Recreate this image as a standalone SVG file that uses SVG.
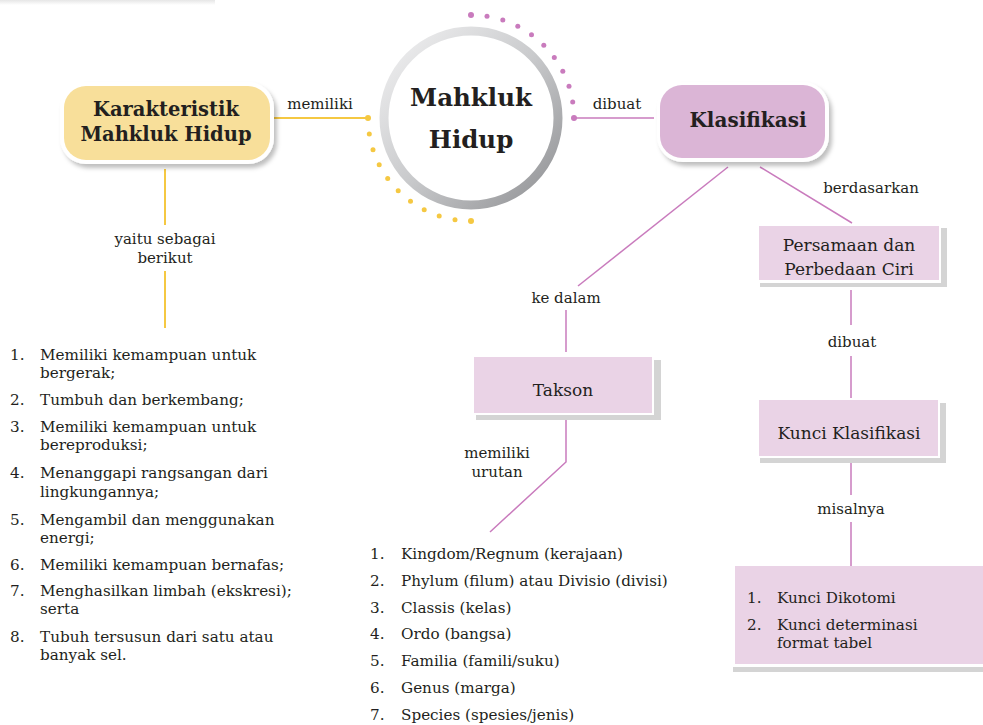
<svg xmlns="http://www.w3.org/2000/svg" width="983" height="725" viewBox="0 0 983 725">
<defs>
<linearGradient id="ring" x1="0" y1="0" x2="1" y2="1">
<stop offset="0" stop-color="#f2f2f3"/>
<stop offset="0.5" stop-color="#c9cacc"/>
<stop offset="1" stop-color="#8e8f92"/>
</linearGradient>
<filter id="sh" x="-10%" y="-10%" width="130%" height="140%">
<feDropShadow dx="3" dy="4" stdDeviation="2" flood-color="#000" flood-opacity="0.25"/>
</filter>
<linearGradient id="topfade" x1="0" y1="0" x2="0" y2="1">
<stop offset="0" stop-color="#e6e6e6"/>
<stop offset="1" stop-color="#ffffff"/>
</linearGradient>
</defs>
<style>
text{font-family:"DejaVu Serif","Liberation Serif",serif;fill:#231f20}
.t{font-size:15.2px}
.lbl{font-size:15px;text-anchor:middle}
.bx{font-size:17px;text-anchor:middle}
.b{font-weight:bold;text-anchor:middle}
.ly{stroke:#f5c842;stroke-width:2;fill:none}
.lp{stroke:#c97bbd;stroke-width:1.5;fill:none}
.dy{fill:#f5c842}
.dp{fill:#c97bbd}
.box{fill:#ead3e6}
.shd{fill:#d4d4d4}
</style>
<rect x="0" y="0" width="215" height="5" fill="url(#topfade)"/>
<g id="connectors">
<line class="ly" x1="268" y1="118" x2="367" y2="118"/>
<line class="ly" x1="165" y1="169" x2="165" y2="225"/>
<line class="ly" x1="165" y1="271" x2="165" y2="328"/>
<line class="lp" x1="574" y1="118" x2="654" y2="118"/>
<line class="lp" x1="728" y1="167" x2="578" y2="286"/>
<line class="lp" x1="566" y1="310" x2="566" y2="352"/>
<line class="lp" x1="760" y1="167" x2="852" y2="223"/>
<line class="lp" x1="851" y1="290" x2="851" y2="325"/>
<line class="lp" x1="851" y1="356" x2="851" y2="398"/>
<line class="lp" x1="851" y1="462" x2="851" y2="495"/>
<line class="lp" x1="851" y1="522" x2="851" y2="566"/>
<polyline class="lp" points="566,416 566,462 490,532"/>
<g id="dots-purple">
<circle class="dp" cx="471" cy="15" r="3"/>
<circle class="dp" cx="487" cy="16.3" r="2.5"/>
<circle class="dp" cx="502.8" cy="20" r="2.5"/>
<circle class="dp" cx="517.8" cy="26.2" r="2.5"/>
<circle class="dp" cx="531.5" cy="34.7" r="2.5"/>
<circle class="dp" cx="543.8" cy="45.2" r="2.5"/>
<circle class="dp" cx="554.3" cy="57.5" r="2.5"/>
<circle class="dp" cx="562.8" cy="71.2" r="2.5"/>
<circle class="dp" cx="569" cy="86.2" r="2.5"/>
<circle class="dp" cx="572.7" cy="102" r="2.5"/>
<circle class="dp" cx="574" cy="118" r="3"/>
</g>
<g id="dots-yellow">
<circle class="dy" cx="368" cy="118" r="3"/>
<circle class="dy" cx="369.3" cy="134" r="2.5"/>
<circle class="dy" cx="373" cy="149.8" r="2.5"/>
<circle class="dy" cx="379.2" cy="164.8" r="2.5"/>
<circle class="dy" cx="387.7" cy="178.5" r="2.5"/>
<circle class="dy" cx="398.2" cy="190.8" r="2.5"/>
<circle class="dy" cx="410.5" cy="201.3" r="2.5"/>
<circle class="dy" cx="424.2" cy="209.8" r="2.5"/>
<circle class="dy" cx="439.2" cy="216" r="2.5"/>
<circle class="dy" cx="455" cy="219.7" r="2.5"/>
<circle class="dy" cx="471" cy="221" r="3"/>
</g>
<text class="lbl" x="320" y="109">memiliki</text>
<text class="lbl" x="617" y="109">dibuat</text>
<text class="lbl" x="165" y="244">yaitu sebagai</text>
<text class="lbl" x="165" y="263">berikut</text>
<text class="lbl" x="566" y="303">ke dalam</text>
<text class="lbl" x="871" y="193">berdasarkan</text>
<text class="lbl" x="852" y="347">dibuat</text>
<text class="lbl" x="851" y="514">misalnya</text>
<text class="lbl" x="497" y="458">memiliki</text>
<text class="lbl" x="497" y="477">urutan</text>
</g>
<g id="node-karakteristik">
<rect x="60" y="82" width="214" height="82" rx="26" fill="#fff" filter="url(#sh)"/>
<rect x="64" y="86" width="206" height="74" rx="22" fill="#f8df9a"/>
<text class="b" x="166" y="116" font-size="19.5">Karakteristik</text>
<text class="b" x="166" y="141" font-size="19.5">Mahkluk Hidup</text>
</g>
<g id="node-mahkluk">
<circle cx="471" cy="118" r="87" fill="#fff" stroke="url(#ring)" stroke-width="9"/>
<text class="b" x="471" y="106" font-size="24.5">Mahkluk</text>
<text class="b" x="471" y="148" font-size="24.5">Hidup</text>
</g>
<g id="node-klasifikasi">
<rect x="657" y="82" width="172" height="80" rx="26" fill="#fff" filter="url(#sh)"/>
<rect x="660" y="85" width="165" height="73" rx="22" fill="#dbb5d6"/>
<text class="b" x="748" y="127" font-size="20">Klasifikasi</text>
</g>
<g id="node-persamaan">
<rect x="760" y="228" width="187" height="59" class="shd"/>
<rect x="757" y="224" width="184" height="59" fill="#fff"/>
<rect x="759" y="226" width="180" height="54" class="box"/>
<text class="bx" x="849" y="251">Persamaan dan</text>
<text class="bx" x="849" y="275">Perbedaan Ciri</text>
</g>
<g id="node-kunci">
<rect x="760" y="403" width="186" height="60" class="shd"/>
<rect x="757" y="398" width="183" height="60" fill="#fff"/>
<rect x="759" y="400" width="179" height="56" class="box"/>
<text class="bx" x="849" y="439">Kunci Klasifikasi</text>
</g>
<g id="node-takson">
<rect x="476" y="360" width="185" height="60" class="shd"/>
<rect x="472" y="355" width="182" height="60" fill="#fff"/>
<rect x="474" y="357" width="178" height="56" class="box"/>
<text class="bx" x="563" y="396">Takson</text>
</g>
<g id="node-contoh">
<rect x="733" y="667" width="250" height="5" class="shd"/>
<rect x="735" y="566" width="248" height="98" class="box"/>
<text class="t" x="747" y="603">1.</text>
<text class="t" x="777" y="603">Kunci Dikotomi</text>
<text class="t" x="747" y="630">2.</text>
<text class="t" x="777" y="630">Kunci determinasi</text>
<text class="t" x="777" y="648">format tabel</text>
</g>
<g id="list-karakteristik">
<text class="t" x="10" y="360">1.</text><text class="t" x="40" y="360">Memiliki kemampuan untuk</text>
<text class="t" x="40" y="378">bergerak;</text>
<text class="t" x="10" y="405">2.</text><text class="t" x="40" y="405">Tumbuh dan berkembang;</text>
<text class="t" x="10" y="432">3.</text><text class="t" x="40" y="432">Memiliki kemampuan untuk</text>
<text class="t" x="40" y="450">bereproduksi;</text>
<text class="t" x="10" y="478">4.</text><text class="t" x="40" y="478">Menanggapi rangsangan dari</text>
<text class="t" x="40" y="497">lingkungannya;</text>
<text class="t" x="10" y="525">5.</text><text class="t" x="40" y="525">Mengambil dan menggunakan</text>
<text class="t" x="40" y="543">energi;</text>
<text class="t" x="10" y="570">6.</text><text class="t" x="40" y="570">Memiliki kemampuan bernafas;</text>
<text class="t" x="10" y="596">7.</text><text class="t" x="40" y="596">Menghasilkan limbah (ekskresi);</text>
<text class="t" x="40" y="614">serta</text>
<text class="t" x="10" y="642">8.</text><text class="t" x="40" y="642">Tubuh tersusun dari satu atau</text>
<text class="t" x="40" y="660">banyak sel.</text>
</g>
<g id="list-takson">
<text class="t" x="370" y="559">1.</text><text class="t" x="401" y="559">Kingdom/Regnum (kerajaan)</text>
<text class="t" x="370" y="586">2.</text><text class="t" x="401" y="586">Phylum (filum) atau Divisio (divisi)</text>
<text class="t" x="370" y="613">3.</text><text class="t" x="401" y="613">Classis (kelas)</text>
<text class="t" x="370" y="639">4.</text><text class="t" x="401" y="639">Ordo (bangsa)</text>
<text class="t" x="370" y="666">5.</text><text class="t" x="401" y="666">Familia (famili/suku)</text>
<text class="t" x="370" y="693">6.</text><text class="t" x="401" y="693">Genus (marga)</text>
<text class="t" x="370" y="720">7.</text><text class="t" x="401" y="720">Species (spesies/jenis)</text>
</g>
</svg>
